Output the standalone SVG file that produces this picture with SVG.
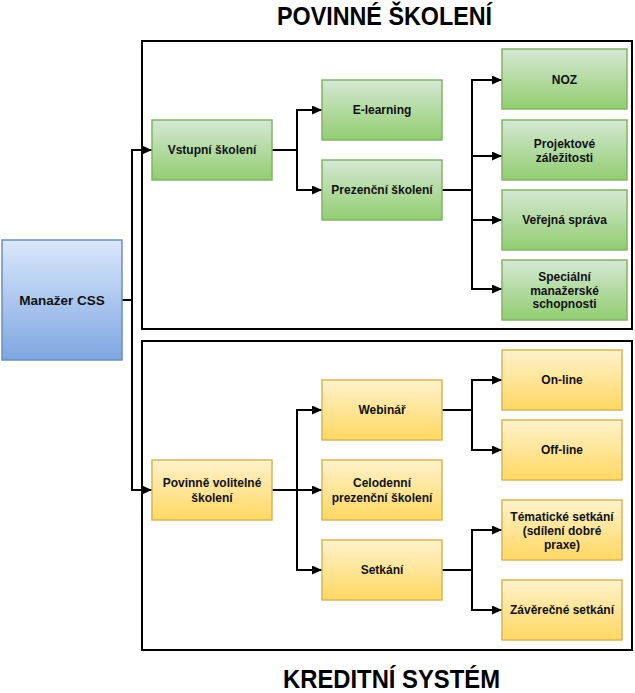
<svg xmlns="http://www.w3.org/2000/svg" width="635" height="693" viewBox="0 0 635 693">
<style>
  .t{font-family:"Liberation Sans",Arial,sans-serif;font-weight:bold;font-size:12px;fill:#111;text-anchor:middle}
  .title{font-family:"Liberation Sans",Arial,sans-serif;font-weight:bold;fill:#000;text-anchor:middle}
  .g{fill:url(#gGreen);stroke:#82b366;stroke-width:1.5}
  .y{fill:url(#gYellow);stroke:#d6b656;stroke-width:1.5}
  .b{fill:url(#gBlue);stroke:#6c8ebf;stroke-width:1.5}
  .c{fill:none;stroke:#000;stroke-width:2}
  .c path{marker-end:url(#arr)}
  .frame{fill:#fff;stroke:#000;stroke-width:2}
</style>
<defs>
  <linearGradient id="gGreen" x1="0" y1="0" x2="0" y2="1"><stop offset="0" stop-color="#d5e8d4"/><stop offset="1" stop-color="#92cd70"/></linearGradient>
  <linearGradient id="gYellow" x1="0" y1="0" x2="0" y2="1"><stop offset="0" stop-color="#fff2cc"/><stop offset="1" stop-color="#ffd762"/></linearGradient>
  <linearGradient id="gBlue" x1="0" y1="0" x2="0" y2="1"><stop offset="0" stop-color="#dae8fc"/><stop offset="1" stop-color="#7ea6e0"/></linearGradient>
  <marker id="arr" markerUnits="userSpaceOnUse" markerWidth="11" markerHeight="10" refX="10" refY="4.5" orient="auto">
    <path d="M0,0 L10,4.5 L0,9 Z" fill="#000"/>
  </marker>
</defs>
<rect width="635" height="693" fill="#fff"/>

<text class="title" x="384.5" y="25" font-size="25" textLength="215" lengthAdjust="spacingAndGlyphs">POVINNÉ ŠKOLENÍ</text>
<text class="title" x="391.5" y="688" font-size="26" textLength="217" lengthAdjust="spacingAndGlyphs">KREDITNÍ SYSTÉM</text>

<rect class="frame" x="142" y="41" width="490" height="288"/>
<rect class="frame" x="142" y="341" width="490" height="309"/>

<g id="connectors" class="c">
  <path d="M122,300 H132 V150 H152"/>
  <path d="M132,300 V490 H152"/>
  <path d="M272,150 H297 V110 H322"/>
  <path d="M297,150 V190 H322"/>
  <path d="M442,190 H472 V80 H502"/>
  <path d="M472,156 H502"/>
  <path d="M472,190 V220 H502"/>
  <path d="M472,220 V289 H502"/>
  <path d="M272,490 H297 V410 H322"/>
  <path d="M297,490 H322"/>
  <path d="M297,490 V570 H322"/>
  <path d="M442,410 H472 V380 H502"/>
  <path d="M472,410 V450 H502"/>
  <path d="M442,570 H472 V530 H502"/>
  <path d="M472,570 V610 H502"/>
</g>

<g id="manazer"><rect class="b" x="2" y="240" width="120" height="120"/><text class="t" x="62" y="305" style="font-size:13.5px">Manažer CSS</text></g>

<g id="vstupni"><rect class="g" x="152" y="120" width="120" height="60"/><text class="t" x="212" y="154">Vstupní školení</text></g>
<g id="elearning"><rect class="g" x="322" y="80" width="120" height="60"/><text class="t" x="382" y="114">E-learning</text></g>
<g id="prezencni"><rect class="g" x="322" y="160" width="120" height="60"/><text class="t" x="382" y="194">Prezenční školení</text></g>
<g id="noz"><rect class="g" x="502" y="49" width="125" height="60"/><text class="t" x="564.5" y="84">NOZ</text></g>
<g id="projektove"><rect class="g" x="502" y="120" width="125" height="60"/><text class="t" x="564.5" y="148">Projektové</text><text class="t" x="564.5" y="162">záležitosti</text></g>
<g id="verejna"><rect class="g" x="502" y="190" width="125" height="60"/><text class="t" x="564.5" y="224">Veřejná správa</text></g>
<g id="specialni"><rect class="g" x="502" y="260" width="125" height="60"/><text class="t" x="564.5" y="281">Speciální</text><text class="t" x="564.5" y="294.5">manažerské</text><text class="t" x="564.5" y="308">schopnosti</text></g>

<g id="povinne-volitelne"><rect class="y" x="152" y="460" width="120" height="60"/><text class="t" x="212" y="487">Povinně volitelné</text><text class="t" x="212" y="502">školení</text></g>
<g id="webinar"><rect class="y" x="322" y="380" width="120" height="60"/><text class="t" x="382" y="414">Webinář</text></g>
<g id="celodenni"><rect class="y" x="322" y="460" width="120" height="60"/><text class="t" x="382" y="487">Celodenní</text><text class="t" x="382" y="502">prezenční školení</text></g>
<g id="setkani"><rect class="y" x="322" y="540" width="120" height="60"/><text class="t" x="382" y="574">Setkání</text></g>
<g id="online"><rect class="y" x="502" y="350" width="120" height="60"/><text class="t" x="562" y="384">On-line</text></g>
<g id="offline"><rect class="y" x="502" y="420" width="120" height="60"/><text class="t" x="562" y="454">Off-line</text></g>
<g id="tematicke"><rect class="y" x="502" y="500" width="120" height="60"/><text class="t" x="562" y="521">Tématické setkání</text><text class="t" x="562" y="535">(sdílení dobré</text><text class="t" x="562" y="549">praxe)</text></g>
<g id="zaverecne"><rect class="y" x="502" y="580" width="120" height="60"/><text class="t" x="562" y="614">Závěrečné setkání</text></g>
</svg>
